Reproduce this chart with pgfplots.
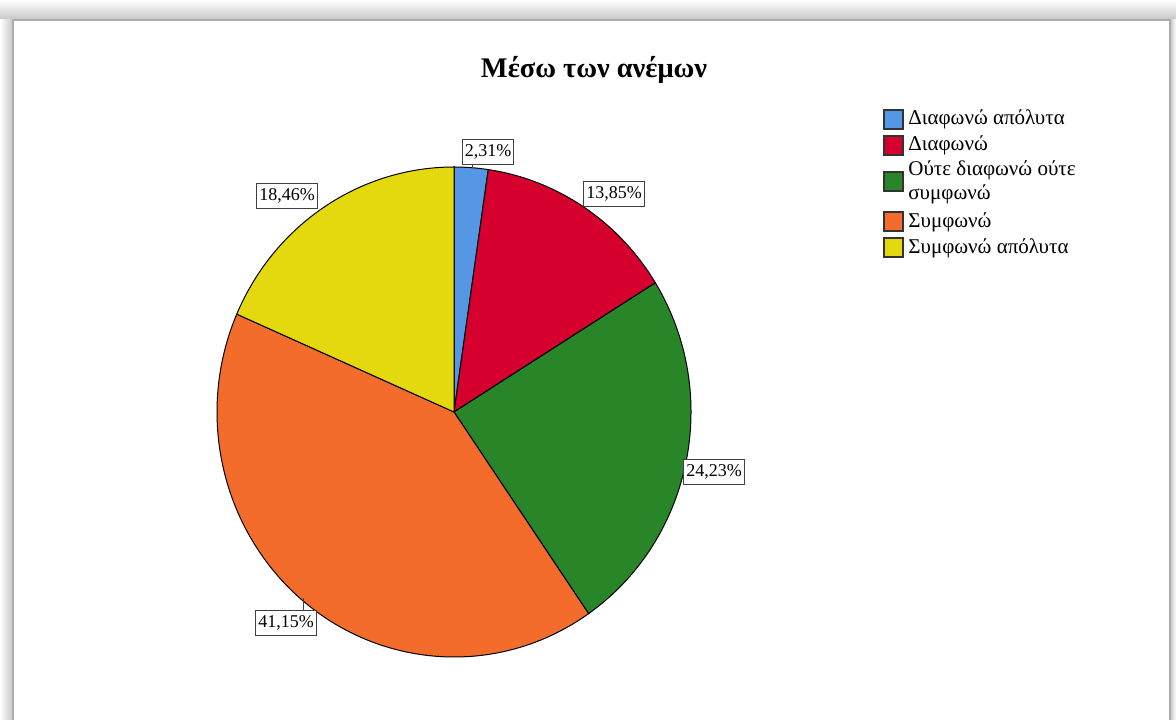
\documentclass[border=0pt]{standalone}
\usepackage{fontspec}
\setmainfont{Liberation Serif}
\usepackage{pgfplots}
\pgfplotsset{compat=1.18}
\definecolor{cblue}{RGB}{85,151,228}
\definecolor{cred}{RGB}{214,0,46}
\definecolor{cgreen}{RGB}{40,133,40}
\definecolor{corange}{RGB}{243,108,43}
\definecolor{cyellow}{RGB}{228,217,14}
\newcommand\piecum{90}
\begin{document}
\begin{tikzpicture}
\begin{axis}[
  at={(0,0)}, anchor=south west,
  width=588pt, height=360pt, scale only axis,
  xmin=0, xmax=1176, ymin=0, ymax=720,
  hide axis, clip=false,
]
% window frame
\fill[gray!8] (0,0) rectangle (1176,720);
\shade[top color=white, bottom color=gray!45] (0,700) rectangle (1176,720);
\shade[left color=white, right color=gray!45] (0,0) rectangle (13,700);
\shade[left color=gray!45, right color=white] (1170,0) rectangle (1176,700);
\fill[white] (13,0) rectangle (1170,700);
\draw[gray!65, line width=1pt] (13,0) -- (13,700) -- (1170,700) -- (1170,0);
% title
\node[font=\bfseries\fontsize{14.2}{17}\selectfont] at (594,650) {Μέσω των ανέμων};
% pie slices, percentages clockwise from 12 o'clock
\foreach \p/\c in {2.31/cblue, 13.85/cred, 24.23/cgreen, 41.15/corange, 18.46/cyellow}{
  \pgfmathsetmacro\endang{\piecum-3.6*\p}
  \edef\tmp{\noexpand\filldraw[fill=\c, draw=black, line width=0.5pt]
    (454,308) -- ++(\piecum:118.5pt and 122.5pt)
    arc[start angle=\piecum, end angle=\endang, x radius=118.5pt, y radius=122.5pt] -- cycle;}
  \tmp
  \global\let\piecum\endang
}
% value labels
\tikzset{lab/.style={draw=black!75, fill=white, inner xsep=1.3pt, inner ysep=2.4pt,
  line width=0.5pt, font=\fontsize{9}{10}\selectfont}}
\draw[black!75, line width=0.5pt] (472,557) -- (472,552);
\draw[black!75, line width=0.5pt] (303,122) -- (303,110);
\node[lab] at (488,568) {2,31\%};
\node[lab] at (614,526) {13,85\%};
\node[lab] at (714,248) {24,23\%};
\node[lab] at (286,97) {41,15\%};
\node[lab] at (287,524) {18,46\%};
% legend
\tikzset{leg/.style={anchor=west, inner sep=0pt, align=left,
  font=\fontsize{10.5}{12}\selectfont}}
\filldraw[fill=cblue, draw=black!80, line width=0.7pt] (884,591) rectangle (903,610);
\node[leg] at (908,601) {Διαφωνώ απόλυτα};
\filldraw[fill=cred, draw=black!80, line width=0.7pt] (884,565) rectangle (903,584);
\node[leg] at (908,575) {Διαφωνώ};
\filldraw[fill=cgreen, draw=black!80, line width=0.7pt] (884,529) rectangle (903,548);
\node[leg] at (908,538) {Ούτε διαφωνώ ούτε\\συμφωνώ};
\filldraw[fill=corange, draw=black!80, line width=0.7pt] (884,489) rectangle (903,508);
\node[leg] at (908,498) {Συμφωνώ};
\filldraw[fill=cyellow, draw=black!80, line width=0.7pt] (884,463) rectangle (903,482);
\node[leg] at (908,472) {Συμφωνώ απόλυτα};
\end{axis}
\end{tikzpicture}
\end{document}
